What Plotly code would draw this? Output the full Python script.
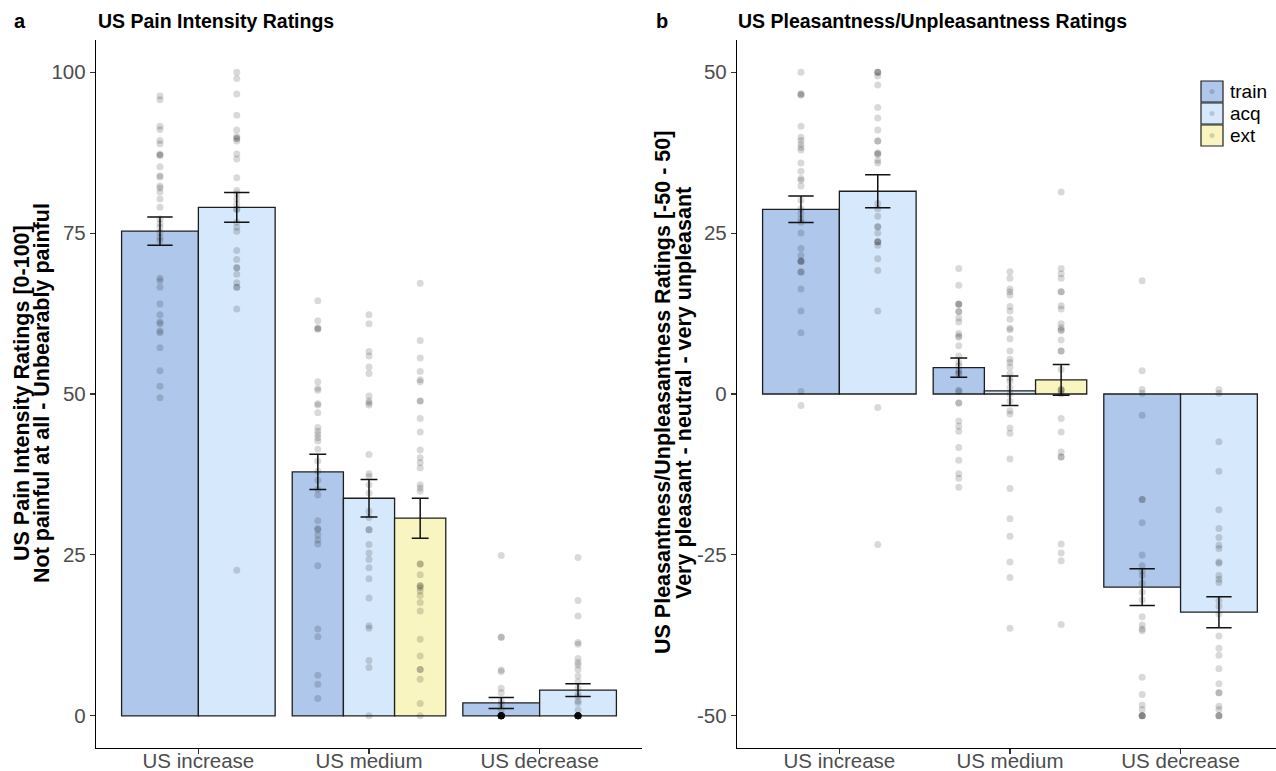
import plotly.graph_objects as go

# ---------------- data ----------------
categories = ["US increase", "US medium", "US decrease"]
conditions = ["train", "acq", "ext"]

# Panel a: pain intensity (0-100)
pain_mean = {
    "train": [75.3, 37.9, 2.0],
    "acq":   [79.0, 33.8, 4.0],
    "ext":   [None, 30.7, None],
}
pain_se = {
    "train": [2.2, 2.75, 0.85],
    "acq":   [2.3, 2.9, 1.0],
    "ext":   [None, 3.1, None],
}
pain_inc_train = [96.3, 95.7, 91.6, 91.1, 89.4, 88.9, 87.3, 87.1, 87.1, 85.3, 83.9, 83.7, 82.3, 82.0,
                  81.4, 80.3, 79.0, 77.2, 76.5, 75.9, 75.1, 74.3, 73.8, 68.0, 67.6, 66.6, 64.0, 62.3,
                  61.2, 60.9, 59.8, 59.5, 57.2, 53.6, 51.2, 49.4]
pain_inc_acq = [100.0, 99.0, 96.6, 93.3, 91.0, 90.0, 89.7, 89.7, 89.3, 87.3, 86.5, 83.6, 81.6, 81.1,
                80.3, 79.5, 78.7, 78.7, 76.7, 75.9, 75.3, 72.3, 70.9, 69.6, 69.6, 68.6, 67.3, 66.6,
                66.6, 63.2, 22.6]
pain_med_train = [64.5, 61.4, 60.3, 60.1, 60.1, 51.9, 50.9, 50.6, 48.5, 48.3, 47.1, 44.8, 44.2, 43.7,
                  43.2, 42.7, 41.4, 39.6, 38.0, 36.6, 35.2, 34.3, 30.3, 29.1, 28.9, 28.1, 27.3, 26.7,
                  23.3, 13.5, 12.3, 6.3, 4.9, 2.7]
pain_med_acq = [62.3, 60.9, 56.6, 55.9, 54.2, 53.2, 49.7, 48.9, 48.6, 48.3, 40.6, 37.6, 37.2, 35.9,
                34.6, 31.8, 30.8, 28.9, 28.9, 26.6, 25.3, 24.3, 23.0, 21.3, 18.3, 14.0, 13.6, 8.6,
                7.5, 0.0]
pain_med_ext = [67.2, 58.3, 55.6, 53.5, 52.2, 51.9, 48.9, 48.9, 46.2, 44.1, 41.3, 40.1, 39.3, 38.5,
                35.9, 35.4, 34.9, 23.6, 23.6, 21.9, 20.2, 20.2, 19.9, 19.4, 18.7, 17.6, 16.3, 11.9,
                9.3, 7.2, 7.2, 5.7, 1.9, 0.0]
pain_dec_train = [24.9, 12.2, 12.2, 7.1, 6.9, 4.3, 3.6, 2.3, 1.8, 1.0,
                  0, 0, 0, 0, 0, 0, 0, 0, 0, 0, 0, 0, 0, 0, 0, 0, 0, 0, 0, 0, 0, 0]
pain_dec_acq = [24.6, 17.9, 15.5, 11.4, 11.1, 8.9, 8.3, 7.9, 7.2, 6.2, 5.3, 4.3, 3.4, 3.0, 2.3, 2.0, 0.9,
                0, 0, 0, 0, 0, 0, 0, 0, 0, 0, 0, 0, 0, 0, 0, 0, 0, 0]

# Panel b: pleasantness / unpleasantness (-50 - 50)
pl_mean = {
    "train": [28.7, 4.1, -30.0],
    "acq":   [31.5, 0.5, -33.9],
    "ext":   [None, 2.2, None],
}
pl_se = {
    "train": [2.05, 1.5, 2.85],
    "acq":   [2.55, 2.3, 2.4],
    "ext":   [None, 2.4, None],
}
pl_inc_train = [50.0, 46.6, 46.6, 46.4, 41.6, 39.9, 39.4, 38.8, 38.3, 37.9, 35.9, 34.6, 33.5, 33.2,
                32.3, 30.1, 28.8, 28.0, 27.2, 26.7, 25.0, 22.6, 21.5, 20.7, 20.6, 20.6, 19.0, 18.9,
                16.3, 12.9, 9.5, 0.4, -1.8]
pl_inc_acq = [50.0, 50.0, 50.0, 49.4, 48.0, 44.5, 42.9, 41.0, 39.3, 39.3, 37.5, 37.3, 37.3, 36.3,
              35.9, 29.6, 28.8, 27.6, 26.0, 26.0, 25.0, 23.7, 23.6, 23.6, 23.1, 21.0, 19.2, 12.9,
              -2.1, -23.4]
pl_med_train = [19.5, 16.9, 14.0, 14.0, 13.9, 12.8, 12.8, 11.8, 11.2, 9.4, 9.0, 8.8, 7.5, 5.9, 4.9,
                4.4, 3.7, 3.3, 3.1, 0.6, 0.4, -1.4, -1.4, -4.2, -5.0, -5.8, -8.3, -10.3, -12.4,
                -13.1, -14.5]
pl_med_acq = [19.0, 18.0, 16.3, 15.9, 15.4, 13.6, 12.9, 11.6, 10.2, 10.0, 8.6, 6.7, 5.4, 4.9, 4.2,
              3.2, 2.5, 2.0, 1.0, 0.0, -1.1, -2.6, -3.1, -5.3, -6.1, -10.1, -14.7, -19.4, -22.1,
              -26.1, -28.5, -36.4]
pl_med_ext = [31.4, 19.5, 18.7, 18.0, 15.9, 15.9, 13.7, 13.2, 10.9, 10.3, 9.9, 9.9, 8.4, 6.7, 6.7,
              3.8, 0.7, 0.7, 0.5, 0.0, -3.8, -5.9, -9.0, -9.8, -9.8, -23.3, -24.7, -25.9, -35.8]
pl_dec_train = [17.6, 3.6, 0.7, 0.1, -3.3, -16.4, -16.4, -20.0, -25.0, -26.7, -27.5, -28.2, -29.4,
                -30.8, -32.0, -34.6, -35.9, -36.5, -36.8, -44.0, -46.7, -48.3, -49.0, -50.0, -50.0,
                -50.0, -50.0]
pl_dec_acq = [0.7, 0.1, -7.4, -12.0, -18.0, -20.9, -22.3, -23.5, -24.0, -26.1, -26.3, -28.2, -28.8,
              -29.3, -32.1, -33.0, -34.2, -37.6, -39.5, -40.6, -42.7, -45.0, -46.4, -46.4, -48.5,
              -49.0, -50.0, -50.0, -50.0]

pain_points = {
    ("US increase", "train"): pain_inc_train, ("US increase", "acq"): pain_inc_acq,
    ("US medium", "train"): pain_med_train, ("US medium", "acq"): pain_med_acq,
    ("US medium", "ext"): pain_med_ext,
    ("US decrease", "train"): pain_dec_train, ("US decrease", "acq"): pain_dec_acq,
}
pl_points = {
    ("US increase", "train"): pl_inc_train, ("US increase", "acq"): pl_inc_acq,
    ("US medium", "train"): pl_med_train, ("US medium", "acq"): pl_med_acq,
    ("US medium", "ext"): pl_med_ext,
    ("US decrease", "train"): pl_dec_train, ("US decrease", "acq"): pl_dec_acq,
}

pain_ticks = [0, 25, 50, 75, 100]
pl_ticks = [-50, -25, 0, 25, 50]

# ---------------- style ----------------
W, H = 1276, 771
MT, MB = 40, 23
FONT = "Liberation Sans, Arial, Helvetica, sans-serif"
fills = {"train": "#AEC7EB", "acq": "#D6E8FC", "ext": "#F9F5C0"}
point_color = "rgba(0,0,0,0.15)"
DODGE = 0.9
PX_PER_UNIT = 170.6
ERR_FRAC = 0.165


def px_x(px):
    return px / W


def px_y(py):
    return (H - MB - py) / (H - MT - MB)


def dodge(means):
    """ggplot-like position_dodge: returns {cond: (x, width)} per category index."""
    out = []
    for ci in range(len(categories)):
        present = [c for c in conditions if means[c][ci] is not None]
        n = len(present)
        w = DODGE / n
        d = {}
        for k, c in enumerate(present):
            d[c] = (ci + 1 - DODGE / 2 + w * (k + 0.5), w)
        out.append(d)
    return out


fig = go.Figure()


def add_panel(means, ses, points, xa, ya):
    pos = dodge(means)
    # bars
    for c in conditions:
        xs, ys, ws = [], [], []
        for ci in range(len(categories)):
            if c in pos[ci]:
                xs.append(pos[ci][c][0])
                ws.append(pos[ci][c][1])
                ys.append(means[c][ci])
        fig.add_trace(go.Bar(
            x=xs, y=ys, width=ws, xaxis=xa, yaxis=ya, showlegend=False,
            marker=dict(color=fills[c], line=dict(color="#1e1e1e", width=1.3)),
        ))
    # points
    for ci, cat in enumerate(categories):
        for c in conditions:
            if (cat, c) in points:
                vals = points[(cat, c)]
                fig.add_trace(go.Scatter(
                    x=[pos[ci][c][0]] * len(vals), y=vals, mode="markers",
                    xaxis=xa, yaxis=ya, showlegend=False,
                    marker=dict(color=point_color, size=7, line=dict(width=0)),
                ))
    # error bars (one trace per category so the cap width follows bar width)
    for ci in range(len(categories)):
        present = [c for c in conditions if c in pos[ci]]
        w = pos[ci][present[0]][1]
        fig.add_trace(go.Scatter(
            x=[pos[ci][c][0] for c in present],
            y=[means[c][ci] for c in present],
            mode="markers", xaxis=xa, yaxis=ya, showlegend=False,
            marker=dict(color="rgba(0,0,0,0)", size=1),
            error_y=dict(type="data", array=[ses[c][ci] for c in present],
                         color="#111111", thickness=1.5,
                         width=ERR_FRAC * w * PX_PER_UNIT),
        ))


add_panel(pain_mean, pain_se, pain_points, "x", "y")
add_panel(pl_mean, pl_se, pl_points, "x2", "y2")

axis_common = dict(
    showline=True, linecolor="black", linewidth=1.2, ticks="outside", ticklen=5,
    tickwidth=1.1, tickcolor="#333333", showgrid=False, zeroline=False, automargin=False,
    tickfont=dict(family=FONT, size=20.5, color="#4D4D4D"),
)
xaxis_extra = dict(ticklabelstandoff=-11)

fig.update_layout(
    template="none",
    width=W, height=H,
    margin=dict(l=0, r=0, t=MT, b=MB, pad=0),
    plot_bgcolor="white", paper_bgcolor="white",
    barmode="overlay", bargap=0,
    font=dict(family=FONT),
    hovermode=False,
    xaxis=dict(domain=[px_x(96), px_x(642)], range=[0.4, 3.6], tickvals=[1, 2, 3],
               ticktext=categories, anchor="y", **axis_common, **xaxis_extra),
    yaxis=dict(domain=[0, 1], range=[-5, 105], tickvals=pain_ticks,
               ticktext=[str(t) for t in pain_ticks], anchor="x", **axis_common),
    xaxis2=dict(domain=[px_x(737), 1], range=[0.4, 0.4 + (W - 737) / PX_PER_UNIT],
                tickvals=[1, 2, 3], ticktext=categories, anchor="y2", **axis_common,
                **xaxis_extra),
    yaxis2=dict(domain=[0, 1], range=[-55, 55], tickvals=pl_ticks,
                ticktext=[str(t) for t in pl_ticks], anchor="x2", **axis_common),
)

ann = []
# panel letters and titles
for txt, x in [("a", 12), ("b", 654)]:
    ann.append(dict(text=f"<b>{txt}</b>", x=px_x(x), y=px_y(21), xref="paper", yref="paper",
                    xanchor="left", yanchor="middle", showarrow=False,
                    font=dict(family=FONT, size=20, color="black")))
for txt, x in [("US Pain Intensity Ratings", 96), ("US Pleasantness/Unpleasantness Ratings", 736)]:
    ann.append(dict(text=f"<b>{txt}</b>", x=px_x(x), y=px_y(21), xref="paper", yref="paper",
                    xanchor="left", yanchor="middle", showarrow=False,
                    font=dict(family=FONT, size=19.5, color="black")))
# y-axis titles (two lines each)
ytitles = [
    ("US Pain Intensity Ratings [0-100]", 22),
    ("Not painful at all - Unbearably painful", 42),
    ("US Pleasantness/Unpleasantness Ratings [-50 - 50]", 663),
    ("Very pleasant - neutral - very unpleasant", 684),
]
for txt, x in ytitles:
    ann.append(dict(text=f"<b>{txt}</b>", x=px_x(x), y=px_y(393), xref="paper", yref="paper",
                    xanchor="center", yanchor="middle", textangle=-90, showarrow=False,
                    font=dict(family=FONT, size=21.5, color="black")))

# legend (drawn manually to mimic ggplot keys with point glyph)
shapes = []
for k, c in enumerate(conditions):
    y0 = 81 + 22 * k
    shapes.append(dict(type="rect", xref="paper", yref="paper",
                       x0=px_x(1201), x1=px_x(1223), y0=px_y(y0), y1=px_y(y0 + 21),
                       fillcolor=fills[c], line=dict(color="#1e1e1e", width=1.2)))
    shapes.append(dict(type="circle", xref="paper", yref="paper",
                       x0=px_x(1209.5), x1=px_x(1214.5), y0=px_y(y0 + 8), y1=px_y(y0 + 13),
                       fillcolor=point_color, line=dict(width=0)))
    ann.append(dict(text=c, x=px_x(1228), y=px_y(y0 + 10.5), xref="paper", yref="paper",
                    xanchor="left", yanchor="middle", showarrow=False,
                    font=dict(family=FONT, size=19, color="black")))

fig.update_layout(annotations=ann, shapes=shapes)

fig.write_html(
    "out.html",
    config={"displayModeBar": False, "staticPlot": True},
    post_script="document.body.style.margin='0';document.body.style.padding='0';"
                "document.documentElement.style.overflow='hidden';",
)
